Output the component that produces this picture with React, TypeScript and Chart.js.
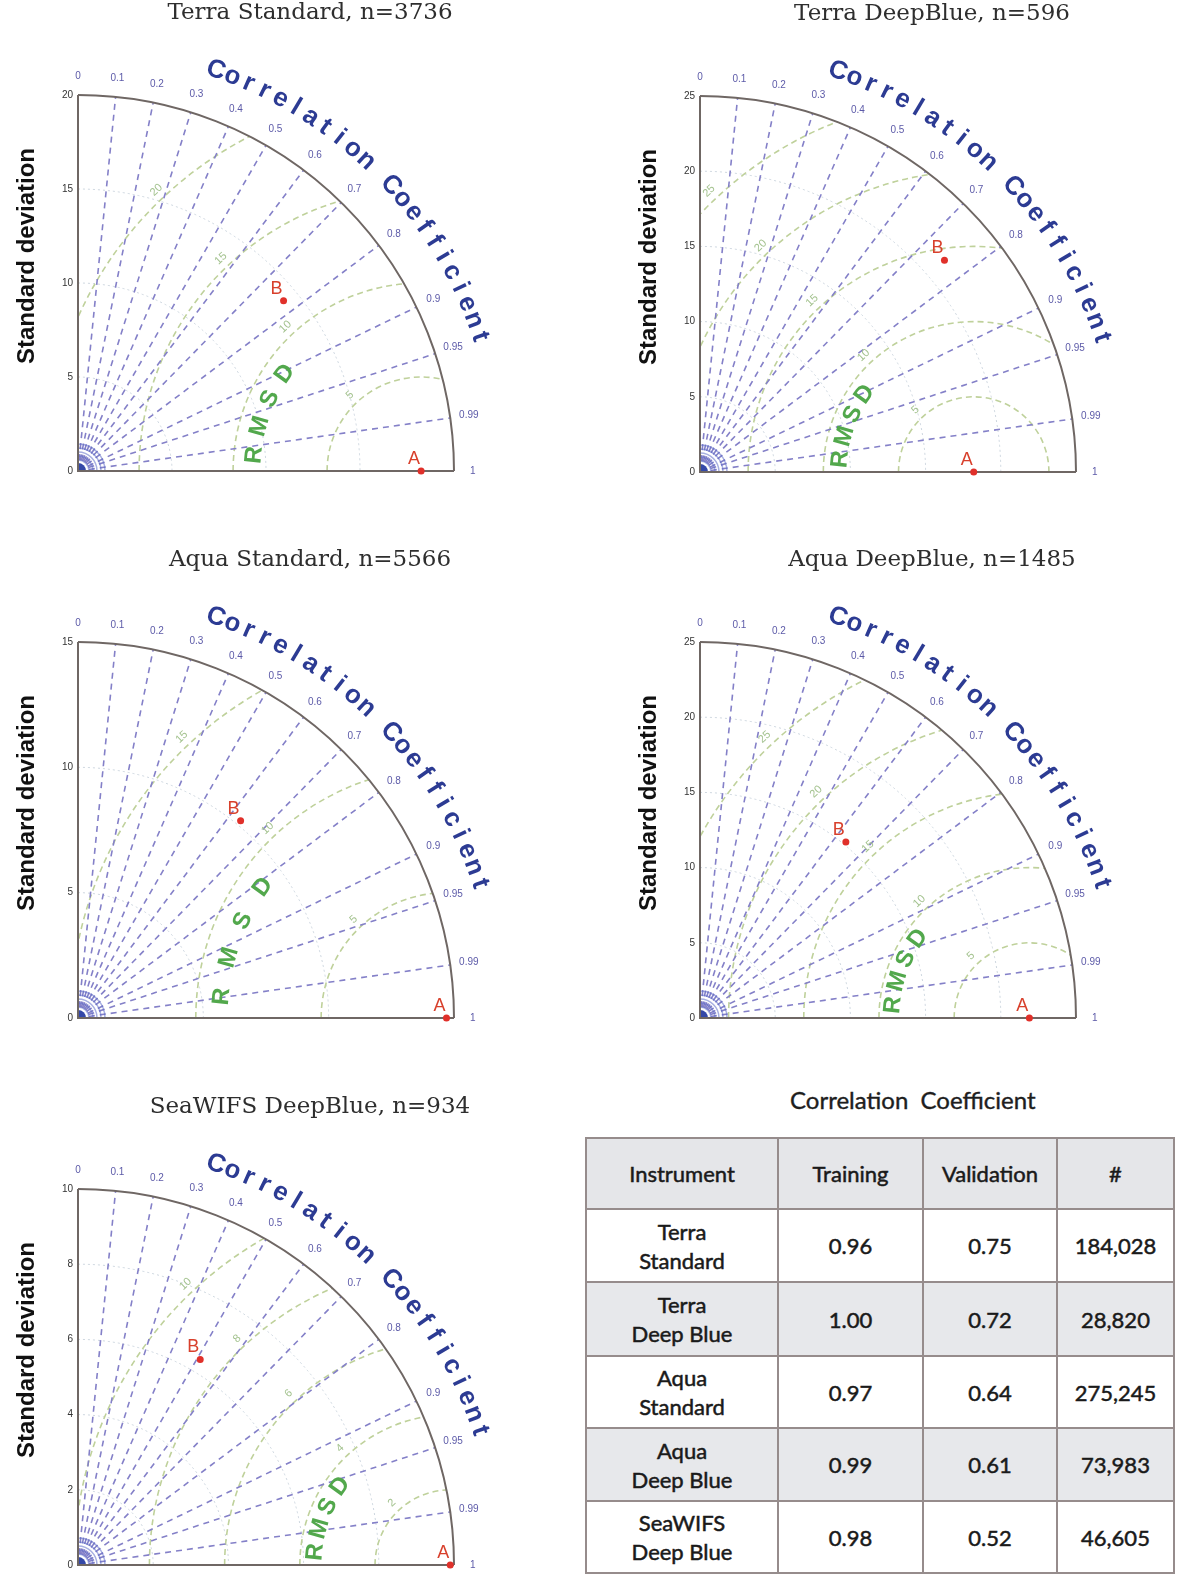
import React, { useEffect, useRef } from "react";
import { Chart, registerables } from "chart.js";
Chart.register(...registerables);

// ---------------- data ----------------
const panelTitles = [
  "Terra Standard, n=3736",
  "Terra DeepBlue, n=596",
  "Aqua Standard, n=5566",
  "Aqua DeepBlue, n=1485",
  "SeaWIFS DeepBlue, n=934",
];
const sdMax = [20, 25, 15, 25, 10];
const sdTicks = [
  [0, 5, 10, 15, 20],
  [0, 5, 10, 15, 20, 25],
  [0, 5, 10, 15],
  [0, 5, 10, 15, 20, 25],
  [0, 2, 4, 6, 8, 10],
];
const rmsdLevels = [
  [5, 10, 15, 20],
  [5, 10, 15, 20, 25],
  [5, 10, 15],
  [5, 10, 15, 20, 25],
  [2, 4, 6, 8, 10],
];
const pointLabels = ["A", "B"];
const refSD = [18.25, 18.2, 14.7, 21.9, 9.9];
const refCorr = [1, 1, 1, 1, 1];
const testSD = [14.2, 21.5, 10.2, 15.2, 6.36];
const testCorr = [0.77, 0.756, 0.636, 0.638, 0.511];
const corrTickValues = [0, 0.1, 0.2, 0.3, 0.4, 0.5, 0.6, 0.7, 0.8, 0.9, 0.95, 0.99, 1];
const corrTickLabels = ["0", "0.1", "0.2", "0.3", "0.4", "0.5", "0.6", "0.7", "0.8", "0.9", "0.95", "0.99", "1"];
const corrLines = [0.1, 0.2, 0.3, 0.4, 0.5, 0.6, 0.7, 0.8, 0.9, 0.95, 0.99];
const corrAxisTitle = "Correlation Coefficient";
const sdAxisTitle = "Standard deviation";
const rmsdTitle = "RMSD";

const tableHeading = "Correlation  Coefficient";
const tableHeaders = ["Instrument", "Training", "Validation", "#"];
const tableInstruments = [
  ["Terra", "Standard"],
  ["Terra", "Deep Blue"],
  ["Aqua", "Standard"],
  ["Aqua", "Deep Blue"],
  ["SeaWIFS", "Deep Blue"],
];
const tableTraining = ["0.96", "1.00", "0.97", "0.99", "0.98"];
const tableValidation = ["0.75", "0.72", "0.64", "0.61", "0.52"];
const tableCount = ["184,028", "28,820", "275,245", "73,983", "46,605"];

// ---------------- layout ----------------
const panelOrigins = [
  [78, 471],
  [700, 472],
  [78, 1018],
  [700, 1018],
  [78, 1565],
];
const rmsdTextRadius = [8.9, 8.9, 9.0, 9.1, 3.6];
const PLOT = 376;
const PAD_L = 78;
const PAD_R = 116;
const PAD_B = 22;
const CANVAS_W = PAD_L + PLOT + PAD_R;
const CANVAS_H = 471 + PAD_B;
const PAD_T = 471 - PLOT;
const SANS = '"Liberation Sans", Arial, sans-serif';

function makePlugin(i: number) {
  return {
    id: "taylor" + i,
    beforeDatasetsDraw(chart: any) {
      const ctx = chart.ctx as CanvasRenderingContext2D;
      const xs = chart.scales.x;
      const ys = chart.scales.y;
      const max = sdMax[i];
      const ox = xs.getPixelForValue(0);
      const oy = ys.getPixelForValue(0);
      const ppu = (xs.getPixelForValue(max) - ox) / max;
      const Rpx = max * ppu;
      const pol = (r: number, th: number) => ({
        x: xs.getPixelForValue(r * Math.cos(th)),
        y: ys.getPixelForValue(r * Math.sin(th)),
      });
      const a = pol(refSD[i], Math.acos(refCorr[i]));
      ctx.save();

      // standard deviation arcs (dotted grey)
      ctx.strokeStyle = "#ccd5de";
      ctx.lineWidth = 1;
      ctx.setLineDash([2, 3]);
      sdTicks[i].forEach((t) => {
        if (t > 0 && t < max) {
          ctx.beginPath();
          ctx.arc(ox, oy, t * ppu, -Math.PI / 2, 0);
          ctx.stroke();
        }
      });

      // RMSD arcs
      ctx.save();
      ctx.beginPath();
      ctx.moveTo(ox, oy);
      ctx.arc(ox, oy, Rpx, -Math.PI / 2, 0);
      ctx.closePath();
      ctx.clip();
      ctx.strokeStyle = "#bfd19b";
      ctx.lineWidth = 1.6;
      ctx.setLineDash([6, 4]);
      rmsdLevels[i].forEach((l) => {
        ctx.beginPath();
        ctx.arc(a.x, a.y, l * ppu, Math.PI, 2 * Math.PI);
        ctx.stroke();
      });
      ctx.restore();

      // correlation radial lines
      ctx.strokeStyle = "#8480c8";
      ctx.lineWidth = 1.6;
      ctx.setLineDash([6, 5]);
      corrLines.forEach((c) => {
        const e = pol(max, Math.acos(c));
        ctx.beginPath();
        ctx.moveTo(ox, oy);
        ctx.lineTo(e.x, e.y);
        ctx.stroke();
      });

      // blue marks at origin
      ctx.setLineDash([]);
      ctx.strokeStyle = "rgba(95,110,200,0.55)";
      ctx.lineWidth = 1.5;
      [11, 15, 19, 23, 27].forEach((r) => {
        ctx.beginPath();
        ctx.arc(ox, oy, r, -Math.PI / 2, 0);
        ctx.stroke();
      });
      ctx.fillStyle = "#3448a8";
      ctx.beginPath();
      ctx.moveTo(ox, oy);
      ctx.arc(ox, oy, 8, -Math.PI / 2, 0);
      ctx.closePath();
      ctx.fill();

      // axes + outer arc
      ctx.strokeStyle = "#6f6764";
      ctx.lineWidth = 2;
      ctx.beginPath();
      ctx.moveTo(ox, oy - Rpx);
      ctx.lineTo(ox, oy);
      ctx.lineTo(ox + Rpx, oy);
      ctx.stroke();
      ctx.beginPath();
      ctx.arc(ox, oy, Rpx, -Math.PI / 2, 0);
      ctx.stroke();

      // y tick labels
      ctx.font = "10px " + SANS;
      ctx.fillStyle = "#333";
      ctx.textAlign = "right";
      ctx.textBaseline = "middle";
      sdTicks[i].forEach((t) => {
        ctx.fillText(String(t), ox - 5, ys.getPixelForValue(t));
      });

      // correlation tick labels
      ctx.fillStyle = "#5c5aa8";
      ctx.textAlign = "center";
      corrTickValues.forEach((c, k) => {
        const p = pol(max * 1.05, Math.acos(c));
        ctx.fillText(corrTickLabels[k], p.x, p.y);
      });

      // RMSD level labels
      ctx.font = "11px " + SANS;
      ctx.fillStyle = "#a3c28e";
      const phi = (46.7 * Math.PI) / 180;
      rmsdLevels[i].forEach((l) => {
        const r = l * ppu + 10;
        const x = a.x - r * Math.cos(phi);
        const y = a.y - r * Math.sin(phi);
        if (Math.hypot(x - ox, y - oy) < Rpx && x > ox) {
          ctx.save();
          ctx.translate(x, y);
          ctx.rotate(-(Math.PI / 2 - phi));
          ctx.fillText(String(l), 0, 0);
          ctx.restore();
        }
      });

      // RMSD word
      ctx.font = "bold 24px " + SANS;
      ctx.fillStyle = "#52a84c";
      const rr = rmsdTextRadius[i] * ppu;
      rmsdTitle.split("").forEach((ch, k) => {
        const ang = ((5.5 + k * 10) * Math.PI) / 180;
        const x = a.x - rr * Math.cos(ang);
        const y = a.y - rr * Math.sin(ang);
        ctx.save();
        ctx.translate(x, y);
        ctx.rotate(-(Math.PI / 2 - ang));
        ctx.fillText(ch, 0, 0);
        ctx.restore();
      });

      // Correlation Coefficient curved title
      ctx.font = "bold 26px " + SANS;
      ctx.fillStyle = "#2c3b93";
      const rc = Rpx * 1.127;
      corrAxisTitle.split("").forEach((ch, k) => {
        const th = ((71 - k * 2.386) * Math.PI) / 180;
        const x = ox + rc * Math.cos(th);
        const y = oy - rc * Math.sin(th);
        ctx.save();
        ctx.translate(x, y);
        ctx.rotate(Math.PI / 2 - th);
        ctx.fillText(ch, 0, 0);
        ctx.restore();
      });

      // Standard deviation axis title
      ctx.font = "bold 24px " + SANS;
      ctx.fillStyle = "#111";
      ctx.save();
      ctx.translate(ox - 51, oy - 215);
      ctx.rotate(-Math.PI / 2);
      ctx.fillText(sdAxisTitle, 0, 0);
      ctx.restore();

      // panel title
      ctx.font = '23px "DejaVu Serif", serif';
      ctx.fillStyle = "#2e2e2e";
      ctx.fillText(panelTitles[i], ox + 232, oy - 458);

      ctx.restore();
    },
    afterDatasetsDraw(chart: any) {
      const ctx = chart.ctx as CanvasRenderingContext2D;
      const meta = chart.getDatasetMeta(0);
      ctx.save();
      ctx.font = "18px " + SANS;
      ctx.fillStyle = "#d8402c";
      ctx.textAlign = "center";
      ctx.textBaseline = "middle";
      meta.data.forEach((el: any, k: number) => {
        ctx.fillText(pointLabels[k], el.x - 7, el.y - 12);
      });
      ctx.restore();
    },
  };
}

function TaylorPanel({ idx }: { idx: number }) {
  const ref = useRef<HTMLCanvasElement | null>(null);
  useEffect(() => {
    if (!ref.current) return;
    const sds = [refSD[idx], testSD[idx]];
    const crs = [refCorr[idx], testCorr[idx]];
    const pts = sds.map((s, k) => ({
      x: s * crs[k],
      y: s * Math.sqrt(Math.max(0, 1 - crs[k] * crs[k])),
    }));
    const chart = new Chart(ref.current, {
      type: "scatter",
      data: {
        datasets: [
          {
            data: pts,
            pointRadius: 3.5,
            pointBackgroundColor: "#e0302a",
            pointBorderColor: "#e0302a",
            pointBorderWidth: 0,
            clip: false,
          } as any,
        ],
      },
      options: {
        responsive: false,
        maintainAspectRatio: false,
        animation: false,
        layout: { padding: { left: PAD_L, right: PAD_R, top: PAD_T, bottom: PAD_B } },
        scales: {
          x: { type: "linear", min: 0, max: sdMax[idx], display: false },
          y: { type: "linear", min: 0, max: sdMax[idx], display: false },
        },
        plugins: { legend: { display: false }, tooltip: { enabled: false } },
        events: [],
      },
      plugins: [makePlugin(idx)],
    });
    return () => chart.destroy();
  }, [idx]);
  const [ox, oy] = panelOrigins[idx];
  return (
    <canvas
      ref={ref}
      width={CANVAS_W}
      height={CANVAS_H}
      style={{
        position: "absolute",
        left: ox - PAD_L,
        top: oy - 471,
        width: CANVAS_W,
        height: CANVAS_H,
      }}
    />
  );
}

const colWidths = [190, 143, 132, 115];
const rowHeights = [71, 72, 70, 71, 70];
const border = "2px solid #968c8c";

export default function App() {
  const cell = (bg: string, w: number, h: number): React.CSSProperties => ({
    border,
    background: bg,
    width: w,
    height: h,
    textAlign: "center",
    verticalAlign: "middle",
    padding: 0,
    lineHeight: "29px",
    fontWeight: "normal",
    WebkitTextStroke: "0.5px #1a1a1a",
  });
  return (
    <div style={{ position: "absolute", left: 0, top: 0, width: 1200, height: 1591, background: "#fff" }}>
      {panelTitles.map((_, i) => (
        <TaylorPanel key={i} idx={i} />
      ))}
      <div
        style={{
          position: "absolute",
          left: 790,
          top: 1085,
          font: '24px Lato, "Open Sans", sans-serif',
          color: "#1e1e1e",
          whiteSpace: "pre",
          WebkitTextStroke: "0.4px #1e1e1e",
        }}
      >
        {tableHeading}
      </div>
      <table
        style={{
          position: "absolute",
          left: 585,
          top: 1137,
          borderCollapse: "collapse",
          fontFamily: 'Lato, "Open Sans", sans-serif',
          fontSize: 22,
          color: "#1a1a1a",
          tableLayout: "fixed",
          width: 580,
        }}
      >
        <thead>
          <tr>
            {tableHeaders.map((h, k) => (
              <th key={k} style={cell("#e5e6e9", colWidths[k], 69)}>
                {h}
              </th>
            ))}
          </tr>
        </thead>
        <tbody>
          {tableInstruments.map((inst, r) => {
            const bg = r % 2 === 1 ? "#e7e8eb" : "#ffffff";
            const h = rowHeights[r];
            return (
              <tr key={r}>
                <td style={cell(bg, colWidths[0], h)}>
                  {inst[0]}
                  <br />
                  {inst[1]}
                </td>
                <td style={cell(bg, colWidths[1], h)}>{tableTraining[r]}</td>
                <td style={cell(bg, colWidths[2], h)}>{tableValidation[r]}</td>
                <td style={cell(bg, colWidths[3], h)}>{tableCount[r]}</td>
              </tr>
            );
          })}
        </tbody>
      </table>
    </div>
  );
}
